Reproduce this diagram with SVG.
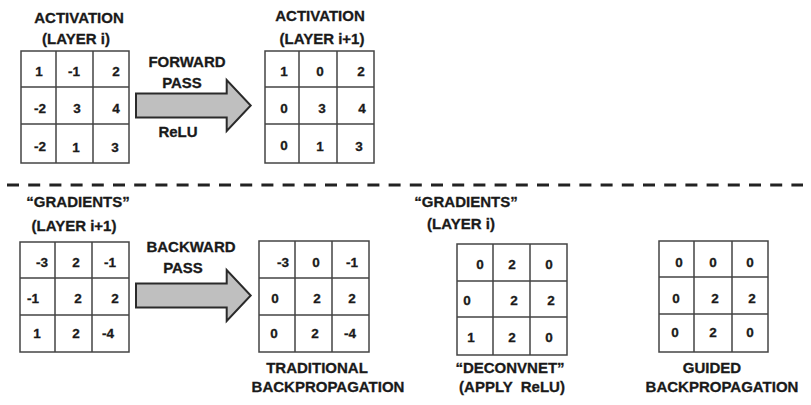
<svg xmlns="http://www.w3.org/2000/svg" width="811" height="405" viewBox="0 0 811 405">
<style>
text{font-family:"Liberation Sans",Arial,sans-serif;font-weight:bold;fill:#1a1a1a;stroke:#1a1a1a;stroke-width:0.3;text-anchor:middle}
.lbl{font-size:15px}
.num{font-size:13.5px}
.grid{fill:#fff;stroke:#444;stroke-width:1.5}
.arrow{fill:#bfbfbf;stroke:#2a2a2a;stroke-width:2;stroke-linejoin:miter}
.dash{stroke:#222;stroke-width:3;stroke-dasharray:12 9.2;fill:none}
</style>
<rect width="811" height="405" fill="#fff"/>

<g id="act-i">
<text class="lbl" x="79" y="23">ACTIVATION</text>
<text class="lbl" x="76" y="44">(LAYER i)</text>
<rect class="grid" x="21" y="51" width="108" height="112"/>
<path class="grid" d="M56 51V163M93 51V163M21 87H129M21 124H129"/>
<text class="num" x="39" y="76">1</text><text class="num" x="74" y="76">-1</text><text class="num" x="116" y="76">2</text>
<text class="num" x="40" y="113">-2</text><text class="num" x="77" y="113">3</text><text class="num" x="116" y="113">4</text>
<text class="num" x="40" y="151">-2</text><text class="num" x="76" y="152">1</text><text class="num" x="115" y="152">3</text>
</g>

<g id="act-i1">
<text class="lbl" x="320" y="21">ACTIVATION</text>
<text class="lbl" x="322" y="44">(LAYER i+1)</text>
<rect class="grid" x="265" y="51" width="109" height="112"/>
<path class="grid" d="M299 51V163M337 51V163M265 87H374M265 124H374"/>
<text class="num" x="284" y="76">1</text><text class="num" x="320" y="76">0</text><text class="num" x="361" y="76">2</text>
<text class="num" x="284" y="113">0</text><text class="num" x="322" y="113">3</text><text class="num" x="362" y="113">4</text>
<text class="num" x="284" y="150">0</text><text class="num" x="320" y="151">1</text><text class="num" x="359" y="151">3</text>
</g>

<g id="grad-i1">
<text class="lbl" x="78" y="207">“GRADIENTS”</text>
<text class="lbl" x="74" y="231">(LAYER i+1)</text>
<rect class="grid" x="20" y="242" width="109" height="110"/>
<path class="grid" d="M55 242V352M92 242V352M20 278H129M20 315H129"/>
<text class="num" x="42" y="267">-3</text><text class="num" x="76" y="267">2</text><text class="num" x="110" y="267">-1</text>
<text class="num" x="33" y="303">-1</text><text class="num" x="78" y="303">2</text><text class="num" x="115" y="303">2</text>
<text class="num" x="37" y="338">1</text><text class="num" x="76" y="338">2</text><text class="num" x="108" y="338">-4</text>
</g>

<g id="traditional">
<rect class="grid" x="259" y="241" width="110" height="111"/>
<path class="grid" d="M295 241V352M332 241V352M259 278H369M259 315H369"/>
<text class="num" x="283" y="267">-3</text><text class="num" x="316" y="267">0</text><text class="num" x="352" y="267">-1</text>
<text class="num" x="275" y="303">0</text><text class="num" x="317" y="303">2</text><text class="num" x="352" y="303">2</text>
<text class="num" x="274" y="338">0</text><text class="num" x="315" y="338">2</text><text class="num" x="350" y="338">-4</text>
<text class="lbl" x="317" y="373">TRADITIONAL</text>
<text class="lbl" x="328" y="392">BACKPROPAGATION</text>
</g>

<g id="deconvnet">
<text class="lbl" x="466" y="207">“GRADIENTS”</text>
<text class="lbl" x="461" y="229">(LAYER i)</text>
<rect class="grid" x="457" y="244" width="110" height="111"/>
<path class="grid" d="M493 244V355M530 244V355M457 281H567M457 317H567"/>
<text class="num" x="480" y="269">0</text><text class="num" x="512" y="269">2</text><text class="num" x="549" y="269">0</text>
<text class="num" x="467" y="305">0</text><text class="num" x="514" y="305">2</text><text class="num" x="551" y="305">2</text>
<text class="num" x="471" y="342">1</text><text class="num" x="512" y="342">2</text><text class="num" x="549" y="342">0</text>
<text class="lbl" x="510" y="373">“DECONVNET”</text>
<text class="lbl" x="512" y="392" xml:space="preserve">(APPLY  ReLU)</text>
</g>

<g id="guided">
<rect class="grid" x="659" y="241" width="109" height="111"/>
<path class="grid" d="M694 241V352M732 241V352M659 277H768M659 314H768"/>
<text class="num" x="679" y="267">0</text><text class="num" x="713" y="267">0</text><text class="num" x="750" y="267">0</text>
<text class="num" x="676" y="303">0</text><text class="num" x="715" y="303">2</text><text class="num" x="752" y="303">2</text>
<text class="num" x="675" y="337">0</text><text class="num" x="713" y="337">2</text><text class="num" x="750" y="337">0</text>
<text class="lbl" x="712" y="373">GUIDED</text>
<text class="lbl" x="722" y="392">BACKPROPAGATION</text>
</g>

<g id="connectors">
<path class="arrow" d="M136 93.5H226.7V80L250.7 105.5L226.7 131V117.5H136Z"/>
<text class="lbl" x="187" y="67">FORWARD</text>
<text class="lbl" x="182" y="88">PASS</text>
<text class="lbl" x="178" y="137">ReLU</text>
<path class="arrow" d="M136 283.5H226.7V270L250.7 295.5L226.7 321V307.5H136Z"/>
<text class="lbl" x="191" y="252">BACKWARD</text>
<text class="lbl" x="183" y="273">PASS</text>
<path class="dash" d="M7 185H803"/>
</g>
</svg>
